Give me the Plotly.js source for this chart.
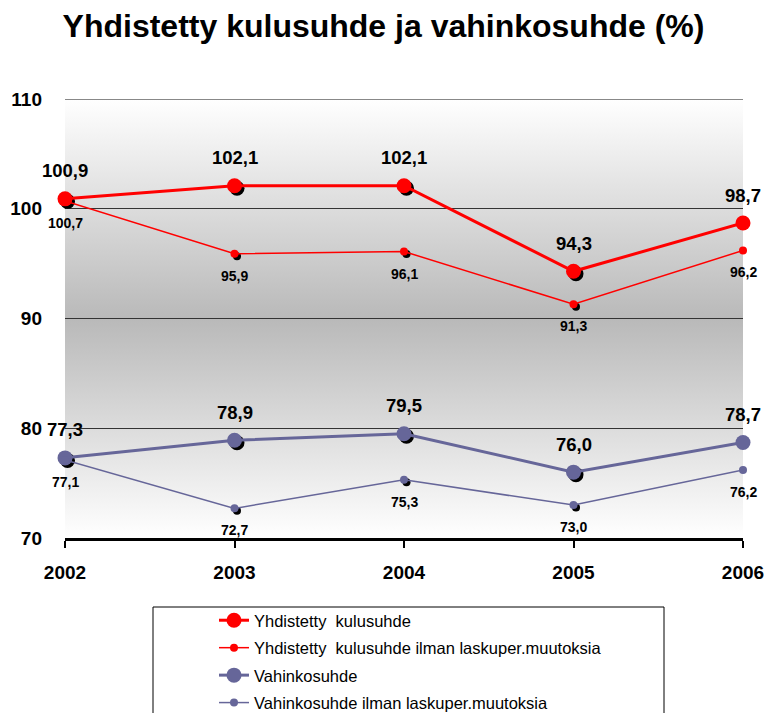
<!DOCTYPE html>
<html><head><meta charset="utf-8">
<script src="https://cdn.plot.ly/plotly-3.0.1.min.js"></script>
<style>
html,body{margin:0;padding:0;background:#fff;}
#wrap{position:relative;width:767px;height:713px;overflow:hidden;}
#bg{position:absolute;left:65px;top:99px;width:678px;height:439px;background:linear-gradient(to bottom,#ffffff 0%,#b9b9b9 50%,#ffffff 100%);}
#chart{position:absolute;left:0;top:0;width:767px;height:713px;}
</style></head><body>
<div id="wrap"><div id="bg"></div><div id="chart"></div></div>
<script>
const years = [2002, 2003, 2004, 2005, 2006];
const combinedRatio = [100.9, 102.1, 102.1, 94.3, 98.7];
const combinedRatioExcl = [100.7, 95.9, 96.1, 91.3, 96.2];
const lossRatio = [77.3, 78.9, 79.5, 76.0, 78.7];
const lossRatioExcl = [77.1, 72.7, 75.3, 73.0, 76.2];
const seriesNames = [
  'Yhdistetty  kulusuhde',
  'Yhdistetty  kulusuhde ilman laskuper.muutoksia',
  'Vahinkosuhde',
  'Vahinkosuhde ilman laskuper.muutoksia'
];
const yTicks = [70, 80, 90, 100, 110];
const chartTitle = 'Yhdistetty kulusuhde ja vahinkosuhde (%)';

const W = 678, H = 439, ML = 65, MT = 99;
const xRange = [2002, 2006], yRange = [70, 110];
const sh = 2.5;
const dx = sh * (xRange[1] - xRange[0]) / W;
const dy = sh * (yRange[1] - yRange[0]) / H;
const FONT = 'Liberation Sans, Arial, sans-serif';

const RED = '#ff0000', BLUE = '#666699';
const series = [
  {name: seriesNames[0], y: combinedRatio, color: RED, lw: 3, ms: 15, big: true},
  {name: seriesNames[1], y: combinedRatioExcl, color: RED, lw: 1.5, ms: 8, big: false},
  {name: seriesNames[2], y: lossRatio, color: BLUE, lw: 3, ms: 15, big: true},
  {name: seriesNames[3], y: lossRatioExcl, color: BLUE, lw: 1.5, ms: 8, big: false}
];

const traces = [];
series.forEach((s, i) => {
  traces.push({
    x: years, y: s.y, xaxis: 'x2', yaxis: 'y2', mode: 'markers', type: 'scatter',
    marker: {color: '#000', size: s.ms}, showlegend: false, hoverinfo: 'skip', cliponaxis: false
  });
});
series.forEach((s, i) => {
  traces.push({
    x: years, y: s.y, xaxis: 'x3', yaxis: 'y3', mode: 'lines+markers', type: 'scatter',
    name: s.name, legendgroup: 'g' + i,
    line: {color: s.color, width: s.lw},
    marker: {color: s.color, size: s.ms}, cliponaxis: false
  });
});

const annotations = [];
series.forEach(s => {
  years.forEach((yr, j) => {
    annotations.push({
      x: yr, y: s.y[j], xref: 'x', yref: 'y', showarrow: false,
      text: s.y[j].toFixed(1).replace('.', ','),
      yshift: s.big ? 28 : -22,
      font: {family: FONT, size: s.big ? 18.5 : 14, weight: 'bold', color: '#000'}
    });
  });
});

const layout = {
  width: 767, height: 713,
  margin: {l: ML, r: 767 - ML - W, t: MT, b: 713 - MT - H, pad: 0, autoexpand: false},
  paper_bgcolor: 'rgba(0,0,0,0)', plot_bgcolor: 'rgba(0,0,0,0)',
  title: {text: chartTitle, font: {family: FONT, size: 32, weight: 'bold', color: '#000'},
          x: 0.5, xref: 'container', xanchor: 'center', y: 1 - 26 / 713, yref: 'container', yanchor: 'middle'},
  xaxis: {range: xRange, tickvals: years, ticktext: years.map(String), ticks: 'outside', ticklen: 7, tickwidth: 2,
          tickcolor: '#000', showline: true, linecolor: '#000', linewidth: 3, showgrid: false, zeroline: false,
          tickangle: 0, automargin: false,
          ticklabelstandoff: 8, tickfont: {family: FONT, size: 19, weight: 'bold', color: '#000'}, fixedrange: true},
  yaxis: {range: yRange, tickvals: yTicks, ticktext: yTicks.map(String), showgrid: true, gridcolor: '#333', gridwidth: 1,
          showline: false, ticks: '', zeroline: false, ticklabelstandoff: 22, automargin: false,
          tickfont: {family: FONT, size: 19, weight: 'bold', color: '#000'}, fixedrange: true},
  xaxis2: {overlaying: 'x', range: [xRange[0] - dx, xRange[1] - dx], visible: false},
  yaxis2: {overlaying: 'y', range: [yRange[0] + dy, yRange[1] + dy], visible: false},
  xaxis3: {overlaying: 'x', range: xRange, visible: false},
  yaxis3: {overlaying: 'y', range: yRange, visible: false},
  shapes: [
    {type: 'line', xref: 'paper', yref: 'y', x0: 0, x1: 1, y0: yRange[1], y1: yRange[1], line: {color: '#888', width: 2}},
    {type: 'rect', xref: 'paper', yref: 'paper', x0: (153 - ML) / W, x1: (664 - ML) / W,
     y0: (MT + H - 607) / H, y1: -0.45, line: {color: '#000', width: 1}, fillcolor: 'rgba(0,0,0,0)'}
  ],
  annotations: annotations,
  showlegend: true,
  legend: {xref: 'container', yref: 'container', x: 214 / 767, y: 1 - 603 / 713, xanchor: 'left', yanchor: 'top',
           bgcolor: 'rgba(0,0,0,0)', borderwidth: 0, font: {family: FONT, size: 16.5, color: '#000'},
           tracegroupgap: 3, itemsizing: 'trace', traceorder: 'grouped'},
  hovermode: false
};

Plotly.newPlot('chart', traces, layout, {displayModeBar: false, staticPlot: true});
</script>
</body></html>
